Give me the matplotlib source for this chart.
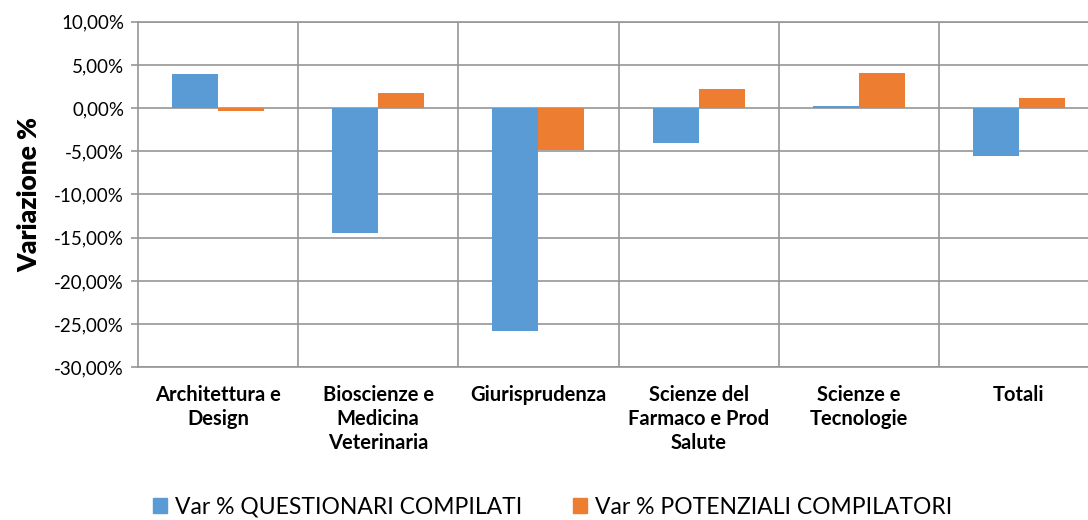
import matplotlib.pyplot as plt
import matplotlib.patches as mpatches
import matplotlib.ticker as ticker
import numpy as np

categories = ["Architettura e\nDesign", "Bioscienze e\nMedicina\nVeterinaria",
              "Giurisprudenza", "Scienze del\nFarmaco e Prod\nSalute",
              "Scienze e\nTecnologie", "Totali"]
questionari = [3.9, -14.5, -25.8, -4.0, 0.3, -5.6]
potenziali = [-0.3, 1.75, -4.85, 2.2, 4.1, 1.15]
series_names = ["Var % QUESTIONARI COMPILATI", "Var % POTENZIALI COMPILATORI"]
yticks = [10, 5, 0, -5, -10, -15, -20, -25, -30]

blue = "#5B9BD5"
orange = "#ED7D31"
grid_col = "#969696"

plt.rcParams['font.family'] = ['Lato', 'DejaVu Sans']

def main():
    W, H = 1088, 520
    fig = plt.figure(figsize=(W / 100, H / 100), dpi=100)
    left, right, bottom, top = 138, 1099, 367.3, 21.7
    ax = fig.add_axes([left / W, 1 - bottom / H, (right - left) / W, (bottom - top) / H])

    x = np.arange(len(categories))
    w = 0.2875
    ax.bar(x - w / 2, questionari, w, color=blue, zorder=3)
    ax.bar(x + w / 2, potenziali, w, color=orange, zorder=3)

    ax.set_xlim(-0.5, len(categories) - 0.5)
    ax.set_ylim(-30, 10)
    ax.set_yticks(yticks)
    ax.yaxis.set_major_formatter(ticker.FuncFormatter(
        lambda v, p: ("%.2f%%" % v).replace(".", ",")))
    ax.set_xticks(x)
    ax.set_xticklabels(categories, fontweight="bold", fontsize=14.5, linespacing=1.25,
                       va="top")
    ax.set_xticks(np.arange(0.5, len(categories) - 0.5, 1), minor=True)

    ax.set_axisbelow(True)
    ax.grid(axis="y", which="major", color=grid_col, linewidth=1.2)
    ax.grid(axis="x", which="minor", color=grid_col, linewidth=1.2)
    ax.tick_params(axis="x", which="both", length=0, pad=13)
    ax.tick_params(axis="y", length=5, color=grid_col, width=1.2, labelsize=13.5,
                   labelcolor="#000000", pad=5)
    for s in ax.spines.values():
        s.set_color(grid_col)
        s.set_linewidth(1.2)

    ax.set_ylabel("Variazione %", fontsize=19, fontweight="heavy", labelpad=9)

    handles = [mpatches.Patch(color=blue, label=series_names[0]),
               mpatches.Patch(color=orange, label=series_names[1])]
    fig.legend(handles=handles, loc="center", bbox_to_anchor=(0.508, 0.025), ncol=2,
               frameon=False, fontsize=16.5, handlelength=0.6, handleheight=0.6,
               handletextpad=0.35, columnspacing=2.2)

    fig.savefig("out.png", dpi=100)

if __name__ == "__main__":
    main()
